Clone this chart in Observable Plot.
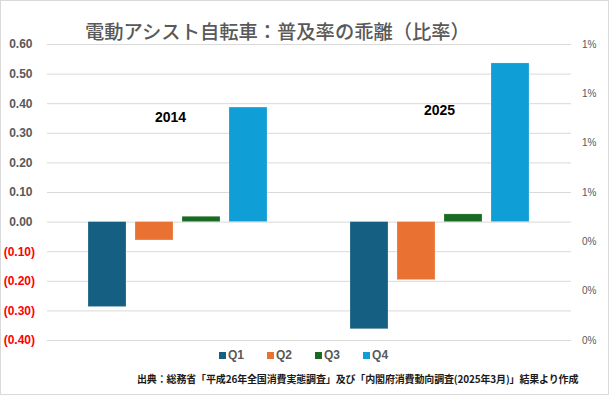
<!DOCTYPE html>
<html>
<head>
<meta charset="utf-8">
<script src="https://cdn.jsdelivr.net/npm/d3@7"></script>
<script src="https://cdn.jsdelivr.net/npm/@observablehq/plot@0.6"></script>
<style>
  html, body { margin: 0; padding: 0; background: #fff; }
  #wrap { position: relative; width: 609px; height: 395px; overflow: hidden; background: #fff; }
  #wrap svg { position: absolute; left: 0; top: 0; }
  #frame { position: absolute; left: 0; top: 0; width: 609px; height: 395px; box-sizing: border-box; border: 1px solid #d9d9d9; pointer-events: none; }
  #title { position: absolute; left: 85px; top: 22px; font-family: "Noto Sans CJK JP", sans-serif; font-weight: 500; font-size: 19.3px; line-height: 19px; color: #595959; white-space: nowrap; }
  #legend { position: absolute; left: 219px; top: 349px; display: flex; align-items: center; font-family: "Liberation Sans", Arial, sans-serif; font-weight: bold; font-size: 12px; line-height: 12px; color: #595959; }
  #legend .item { display: flex; align-items: center; margin-right: 23px; }
  #legend .sw { width: 7px; height: 7px; margin-right: 2px; }
  #caption { position: absolute; left: 137px; top: 374px; font-family: "Noto Sans CJK JP", sans-serif; font-weight: bold; font-size: 10px; line-height: 10px; color: #1a1a1a; white-space: nowrap; letter-spacing: -0.15px; }
</style>
</head>
<body>
<div id="wrap">
  <div id="chart"></div>
  <div id="title"></div>
  <div id="legend"></div>
  <div id="caption"></div>
  <div id="frame"></div>
</div>
<script>
// ---- data ----
const years = ["2014", "2025"];
const quarters = ["Q1", "Q2", "Q3", "Q4"];
const values2014 = [-0.287, -0.062, 0.018, 0.387];
const values2025 = [-0.362, -0.196, 0.026, 0.536];
const colors = ["#156082", "#E97132", "#196B24", "#0F9ED5"];
const leftTicks = [0.6, 0.5, 0.4, 0.3, 0.2, 0.1, 0.0, -0.1, -0.2, -0.3, -0.4];
const rightTicks = [0, 0.002, 0.004, 0.006, 0.008, 0.010, 0.012];
const rightMax = 0.012;
const yearLabelY = [0.355, 0.376];
const titleText = "電動アシスト自転車：普及率の乖離（比率）";
const captionText = "出典：総務省「平成26年全国消費実態調査」及び「内閣府消費動向調査(2025年3月)」結果より作成";

// ---- build table ----
const data = [];
quarters.forEach((q, i) => data.push({year: "2014", q, value: values2014[i]}));
quarters.forEach((q, i) => data.push({year: "2025", q, value: values2025[i]}));

const yMin = -0.4, yMax = 0.6;
const toLeft = r => yMin + (r / rightMax) * (yMax - yMin);
const fromLeft = d => (d - yMin) / (yMax - yMin) * rightMax;

const pos = leftTicks.filter(d => d >= 0);
const neg = leftTicks.filter(d => d < 0);
const f2 = d3.format(".2f");

const chart = Plot.plot({
  width: 609,
  height: 395,
  marginTop: 44,
  marginBottom: 55,
  marginLeft: 46,
  marginRight: 38,
  style: {fontFamily: "'Liberation Sans', Arial, sans-serif", background: "transparent"},
  fx: {domain: years, paddingInner: 0, paddingOuter: 0, axis: null, label: null},
  x: {domain: quarters, paddingInner: 0.19, paddingOuter: 0.87, axis: null},
  y: {domain: [yMin, yMax], axis: null},
  color: {domain: quarters, range: colors},
  marks: [
    Plot.gridY(leftTicks, {stroke: "#d9d9d9", strokeOpacity: 1, strokeWidth: 1}),
    Plot.barY(data, {fx: "year", x: "q", y: "value", fill: "q", stroke: "#ffffff", strokeOpacity: 0.35, strokeWidth: 0.6}),
    Plot.axisY(pos, {anchor: "left", tickSize: 0, tickPadding: 15, tickFormat: d => f2(d), fill: "#595959", fontWeight: "bold", fontSize: 12}),
    Plot.axisY(neg, {anchor: "left", tickSize: 0, tickPadding: 12.5, tickFormat: d => "(" + f2(-d) + ")", fill: "#ff0000", fontWeight: "bold", fontSize: 12}),
    Plot.axisY(rightTicks.map(toLeft), {anchor: "right", tickSize: 0, tickPadding: 10.5, tickFormat: d => d3.format(".0%")(fromLeft(d)), fill: "#595959", fontSize: 10}),
    Plot.text([{year: years[0], y: yearLabelY[0]}], {fx: "year", y: "y", text: "year", frameAnchor: "middle", dx: -8, fontWeight: "bold", fontSize: 14, fill: "#000"}),
    Plot.text([{year: years[1], y: yearLabelY[1]}], {fx: "year", y: "y", text: "year", frameAnchor: "middle", dx: -1, fontWeight: "bold", fontSize: 14, fill: "#000"})
  ]
});
document.getElementById("chart").appendChild(chart);

document.getElementById("title").textContent = titleText;
document.getElementById("caption").textContent = captionText;

const legend = document.getElementById("legend");
quarters.forEach((q, i) => {
  const item = document.createElement("div");
  item.className = "item";
  const sw = document.createElement("div");
  sw.className = "sw";
  sw.style.background = colors[i];
  const lab = document.createElement("span");
  lab.textContent = q;
  item.appendChild(sw);
  item.appendChild(lab);
  legend.appendChild(item);
});
</script>
</body>
</html>
